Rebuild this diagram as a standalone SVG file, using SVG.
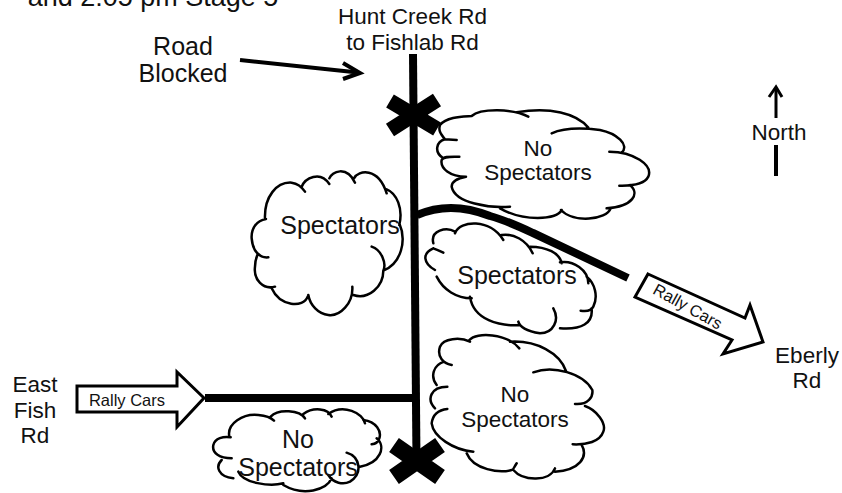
<svg xmlns="http://www.w3.org/2000/svg" width="842" height="493" viewBox="0 0 842 493">
<style>
text{font-family:"Liberation Sans",Arial,sans-serif;fill:#111;font-size:22.500px;text-anchor:middle}
.c{fill:none;stroke:#000;stroke-width:2.5;stroke-linecap:round;vector-effect:non-scaling-stroke}
.r{fill:none;stroke:#000;stroke-width:8}
.x{fill:none;stroke:#000;stroke-width:15}
.a{fill:#fff;stroke:#000;stroke-width:3}
.s{font-size:16.500px}
.m{font-size:25px}
</style>
<rect width="842" height="493" fill="#fff"/>
<text x="153" y="6" style="font-size:27px">and 2:05 pm Stage 5</text>
<g id="connectors">
<path class="r" d="M413 54L416.500 460"/>
<path class="r" d="M205 398H415"/>
<path class="r" d="M417 215C440 205 465 206 490 216C505 220 520 227 533 233L628 278"/>
<path d="M240 60L358 72.500" fill="none" stroke="#000" stroke-width="4"/>
<path d="M343 63L360 73L343 79" fill="none" stroke="#000" stroke-width="4"/>
</g>
<g id="block-north"><path class="x" d="M390 101L437 129M390 130L437 100"/></g>
<g id="block-south"><path class="x" d="M394 445L440 477M394 477L440 445" style="stroke-width:17"/></g>
<g id="cloud-spectators-left">
<path class="c" transform="translate(240 160) scale(.3333)" d="M85 292C60 295 38 275 35 235C33 205 50 182 78 177M75 178C72 110 110 65 155 68C170 70 185 80 195 95M185 80C195 55 240 30 268 72M268 55C275 35 320 15 345 68M342 55C355 30 415 20 440 100M440 88C470 100 490 145 478 195M478 190C500 240 485 310 430 332M395 260C425 270 440 310 430 332C430 380 385 420 340 405M337 380C340 430 300 470 265 465C235 462 210 435 205 405M203 410C190 445 120 440 95 385M105 380C70 390 40 360 45 320C45 305 48 295 52 285"/>
<text class="m" x="340" y="234">Spectators</text>
</g>
<g id="cloud-no-spectators-top">
<path class="c" transform="translate(400 80) scale(.3333)" d="M120 135C140 110 190 110 215 108M215 108C240 85 340 85 385 110M350 97C450 80 530 100 565 143M455 160C500 140 560 145 600 150C650 160 690 195 665 218M628 215C700 215 760 255 745 290C735 310 700 318 658 317M690 315C720 340 700 380 620 385M632 385C620 420 520 430 483 390M485 390C470 420 370 425 300 385M330 380C270 385 165 370 155 320C155 305 170 295 198 290M198 290C150 290 120 265 125 240C130 228 150 230 178 230M130 235C100 215 110 185 135 178L170 180M135 178C120 160 115 150 120 135"/>
<text x="538" y="156">No</text>
<text x="538" y="180">Spectators</text>
</g>
<g id="cloud-spectators-middle">
<path class="c" transform="translate(400 80) scale(.3333)" d="M100 505Q115 510 130 518M100 490C90 450 140 440 165 455M165 460C180 420 270 415 310 480M305 465C340 460 380 480 398 520M390 500C440 500 480 520 485 550M480 547C520 540 565 570 565 610M560 590C585 610 595 650 580 680C575 690 560 695 542 692M575 685C580 730 545 750 480 745M460 685C480 720 460 760 420 760C390 755 360 745 355 725M360 735C300 740 220 720 210 650M215 655C170 655 130 630 110 590M105 570C70 550 65 520 100 505"/>
<text class="m" x="517" y="284">Spectators</text>
</g>
<g id="cloud-no-spectators-right">
<path class="c" transform="translate(420 300) scale(.3333)" d="M95 195C70 190 50 170 60 140C70 115 120 110 150 125M148 120C170 95 260 100 298 145M270 125C350 120 420 160 438 213M340 217C400 195 490 220 517 270C520 290 505 315 465 312M495 318C530 330 560 370 550 395C540 425 500 435 458 433M485 435C505 470 480 510 405 515M405 505C390 545 310 545 280 510M290 490C280 505 280 510 275 510C240 520 160 510 140 460M160 455C100 450 40 410 35 370C38 345 55 330 82 327M45 325C20 300 30 260 82 260M50 255C30 230 40 195 72 185"/>
<text x="515" y="402">No</text>
<text x="515" y="427">Spectators</text>
</g>
<g id="cloud-no-spectators-left">
<path class="c" transform="translate(200 400) scale(.3333)" d="M95 175C60 175 35 160 40 135C45 115 70 108 92 112M88 110C80 70 130 40 175 45C195 47 215 55 222 62M212 50C235 25 300 30 315 55M310 42C340 20 385 25 395 50M385 42C430 10 490 40 495 70M490 60C530 65 545 95 538 115C535 125 525 132 515 133M530 115C560 140 540 190 480 200M440 158C480 170 490 220 450 245C430 255 400 250 385 225M395 235C380 270 310 290 250 255M250 250C210 260 130 250 115 215M65 180C45 200 55 230 100 235"/>
<text class="m" x="298" y="448">No</text>
<text class="m" x="298" y="476">Spectators</text>
</g>
<g id="arrow-east">
<path class="a" d="M77 386H177V372L204 398L177 427V412H77Z"/>
<text class="s" x="127" y="406">Rally Cars</text>
</g>
<g id="arrow-eberly">
<path class="a" d="M648 274L745 318L750 305L763 342L723 354L732 340L635 297Z"/>
<text class="s" x="687" y="312" transform="rotate(29 687 308)">Rally Cars</text>
</g>
<g id="north">
<path d="M776 118V88" fill="none" stroke="#000" stroke-width="3"/>
<path d="M769 97L776 87L782 97" fill="none" stroke="#000" stroke-width="3"/>
<path d="M776 145V176" fill="none" stroke="#000" stroke-width="4"/>
<text x="779" y="140">North</text>
</g>
<g id="labels">
<text x="412.500" y="24">Hunt Creek Rd</text>
<text x="412.500" y="50">to Fishlab Rd</text>
<text class="m" x="183" y="55">Road</text>
<text class="m" x="183" y="82">Blocked</text>
<text x="807" y="363">Eberly</text>
<text x="807" y="388">Rd</text>
<text x="35" y="392">East</text>
<text x="35" y="418">Fish</text>
<text x="35" y="443">Rd</text>
</g>
</svg>
